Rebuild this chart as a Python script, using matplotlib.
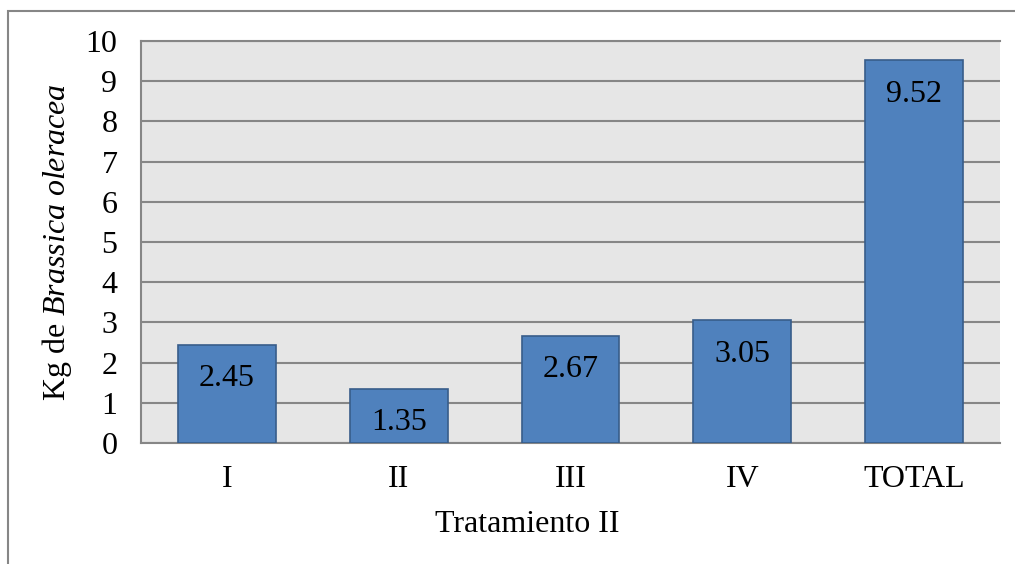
import matplotlib
matplotlib.use("Agg")
import matplotlib.pyplot as plt
from matplotlib.patches import Rectangle

categories = ["I", "II", "III", "IV", "TOTAL"]
values = [2.45, 1.35, 2.67, 3.05, 9.52]
y_ticks = list(range(0, 11))

plt.rcParams["font.family"] = ["Liberation Serif", "DejaVu Serif"]
plt.rcParams["mathtext.fontset"] = "custom"
plt.rcParams["mathtext.rm"] = "Liberation Serif"
plt.rcParams["mathtext.it"] = "Liberation Serif:italic"

FS = 23
grid_c = "#868686"

fig = plt.figure(figsize=(10.15, 5.64), dpi=100)
fig.patches.append(Rectangle((8 / 1015, -0.1), 1.2, (564 - 11) / 564 + 0.1,
                             transform=fig.transFigure, fill=False,
                             edgecolor=grid_c, linewidth=1.5, zorder=0))

ax = fig.add_axes([141 / 1015, 1 - 443 / 564, (1000 - 141) / 1015, (443 - 41) / 564])
ax.set_facecolor("#E6E6E6")

x = list(range(len(categories)))
bars = ax.bar(x, values, width=0.57, color="#4F81BD", edgecolor="#385D8A",
              linewidth=1.2, zorder=3)

for xi, v in zip(x, values):
    ax.annotate(f"{v:.2f}", (xi, v), xytext=(0, -24.5), textcoords="offset points",
                ha="center", va="center", fontsize=FS, color="black", zorder=4)

ax.set_xlim(-0.5, len(categories) - 0.5)
ax.set_ylim(0, 10)
ax.set_yticks(y_ticks)
ax.set_xticks(x)
ax.set_xticklabels(categories)
ax.tick_params(axis="both", length=0, labelsize=FS)
ax.tick_params(axis="y", pad=17)
ax.tick_params(axis="x", pad=16)

ax.yaxis.grid(True, color=grid_c, linewidth=1.5, zorder=1)
ax.set_axisbelow(True)
ax.spines["right"].set_visible(False)
for side in ["left", "bottom", "top"]:
    ax.spines[side].set_color(grid_c)
    ax.spines[side].set_linewidth(1.5)

ax.set_ylabel(r"Kg de $\mathit{Brassica\ oleracea}$", fontsize=FS, labelpad=8)
fig.text(527 / 1015, 1 - 524 / 564, "Tratamiento II", ha="center", va="center",
         fontsize=FS)

fig.savefig("out.png", dpi=100)
